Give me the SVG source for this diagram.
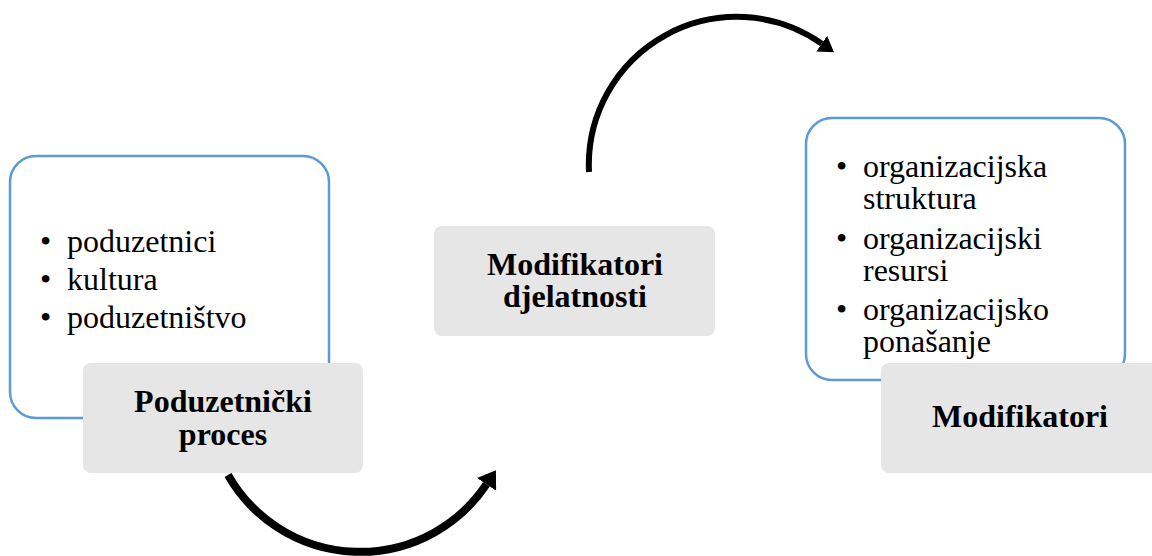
<svg xmlns="http://www.w3.org/2000/svg" width="1152" height="556" viewBox="0 0 1152 556">
<style>
.blue{fill:#fff;stroke:#5B9BD5;stroke-width:2.5}
.gray{fill:#E6E6E6;stroke:none}
.item{font-family:"Liberation Serif","Times New Roman",serif;font-size:32px;fill:#000}
.title{font-family:"Liberation Serif","Times New Roman",serif;font-size:32px;font-weight:bold;fill:#000;text-anchor:middle}
.arc{fill:none;stroke:#000}
</style>
<defs>
<marker id="headB" markerUnits="userSpaceOnUse" markerWidth="17" markerHeight="23" refX="0" refY="11.5" orient="auto"><path d="M0,0 L17,11.5 L0,23 z" fill="#000"/></marker>
<marker id="headT" markerUnits="userSpaceOnUse" markerWidth="15" markerHeight="19" refX="0" refY="9.5" orient="auto"><path d="M0,0 L15,9.5 L0,19 z" fill="#000"/></marker>
</defs>
<g id="connectors">
<path class="arc" stroke-width="8" d="M228,475 A152,152 0 0 0 486.5,484.3" marker-end="url(#headB)"/>
<path class="arc" stroke-width="6" d="M589,172 A148,148 0 0 1 821.7,43.6" marker-end="url(#headT)"/>
</g>
<g id="node-left-list">
<rect class="blue" x="10" y="156" width="319" height="262" rx="26"/>
<text class="item"><tspan x="40" y="252">•</tspan><tspan x="67" y="252">poduzetnici</tspan><tspan x="40" y="290">•</tspan><tspan x="67" y="290">kultura</tspan><tspan x="40" y="328">•</tspan><tspan x="67" y="328">poduzetništvo</tspan></text>
</g>
<g id="node-left-title">
<rect class="gray" x="83" y="363" width="280" height="110" rx="8"/>
<text class="title"><tspan x="223" y="412">Poduzetnički</tspan><tspan x="223" y="445">proces</tspan></text>
</g>
<g id="node-middle">
<rect class="gray" x="434" y="226" width="281" height="110" rx="8"/>
<text class="title"><tspan x="575" y="275">Modifikatori</tspan><tspan x="575" y="307">djelatnosti</tspan></text>
</g>
<g id="node-right-list">
<rect class="blue" x="806" y="118" width="319" height="262" rx="26"/>
<text class="item"><tspan x="836" y="177">•</tspan><tspan x="863" y="177">organizacijska</tspan><tspan x="863" y="209">struktura</tspan><tspan x="836" y="249">•</tspan><tspan x="863" y="249">organizacijski</tspan><tspan x="863" y="281">resursi</tspan><tspan x="836" y="320">•</tspan><tspan x="863" y="320">organizacijsko</tspan><tspan x="863" y="352">ponašanje</tspan></text>
</g>
<g id="node-right-title">
<rect class="gray" x="881" y="363" width="280" height="110" rx="8"/>
<text class="title" x="1020" y="427">Modifikatori</text>
</g>
</svg>
